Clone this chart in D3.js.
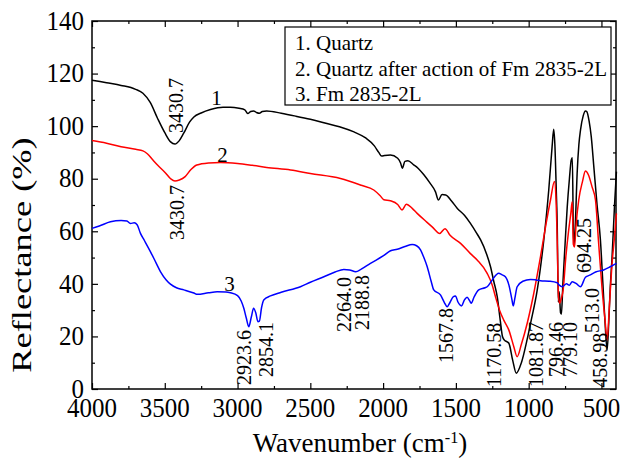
<!DOCTYPE html>
<html>
<head>
<meta charset="utf-8">
<script src="https://cdn.jsdelivr.net/npm/d3@7"></script>
<style>
  body { margin: 0; background: #fff; }
</style>
</head>
<body>
<div id="chart"></div>
<script>
// [wavenumber, reflectance]
const quartz = [
  [4000,117.5],[3900,116.5],[3800,115.5],[3700,114],[3650,112.5],[3600,109],[3550,103],[3500,97.5],
  [3460,94],[3430,93.2],[3400,94.5],[3370,97.3],[3330,101.5],[3300,103.5],[3250,105],[3186,106.3],
  [3100,107.2],[3050,107.2],[2990,106.8],[2950,106.2],[2930,104.8],[2910,105.6],[2890,105.8],[2870,105.2],
  [2850,104.9],[2830,105.6],[2800,105.8],[2700,104.9],[2600,103.8],[2500,102.6],[2400,101.2],[2300,99.8],
  [2200,97.8],[2120,95.5],[2060,92.5],[2030,90],[2010,88.6],[1990,88.8],[1950,89],[1900,87.8],
  [1880,86],[1868,84],[1850,86.6],[1830,86.8],[1790,85.3],[1760,84],[1720,81.5],[1680,78.5],
  [1640,75],[1620,71.9],[1595,74],[1570,73.8],[1530,71.5],[1490,68.7],[1440,66],[1400,63],
  [1360,59.5],[1330,56.7],[1290,51.5],[1262,46.5],[1240,41],[1216,35.1],[1195,26],[1180,20],
  [1165,18.5],[1150,18],[1136,17.4],[1110,11],[1085,6],[1050,10],[1010,19],[987,25],
  [941,37.7],[896,56.7],[862,75.7],[839,92.2],[828,98.8],[820,93],[810,75],[804,63],
  [796,33],[790,37],[781,29],[775,28.5],[765,40],[750,55],[735,69.3],[720,80],
  [708,87],[700,88],[693,60],[688,55],[680,62],[667,82],[655,93],[644,98.5],
  [625,104],[610,105.8],[600,105.5],[585,102],[570,96],[553,85],[530,70],[507,56.7],
  [490,40],[475,25],[461,14.8],[450,25],[440,38],[427,50.3],[410,70],[397,82.7]
];
const quartzTreated = [
  [4000,94.5],[3900,93.5],[3800,92.2],[3700,91.2],[3650,90.6],[3620,89.5],[3580,87],[3550,85.2],
  [3500,82.5],[3460,80],[3430,79.1],[3400,79.5],[3360,80.8],[3320,83.5],[3280,85.2],[3200,86],
  [3117,86.2],[3000,85.8],[2900,85.1],[2800,84.3],[2636,83.3],[2500,82],[2293,80.1],[2150,77.5],
  [2064,75.7],[2020,73.5],[1995,72],[1950,71.6],[1900,70.2],[1870,68.1],[1840,70.3],[1800,68.7],
  [1766,66.8],[1700,63.5],[1663,61.7],[1611,59.2],[1575,61],[1540,58.5],[1468,55.4],[1400,51.5],
  [1354,49.1],[1285,44],[1250,39.5],[1228,35.1],[1200,30],[1171,26.2],[1136,22.4],[1102,16.1],
  [1079,12.3],[1050,17],[1010,25],[970,35],[919,50.3],[880,63],[850,71.9],[823,78.9],
  [812,72],[804,56.7],[795,35],[786,32.6],[778,34],[763,37.7],[745,50],[725,60.5],
  [710,67],[701,71.2],[693,55],[685,54],[675,62],[656,71.9],[630,79],[610,82.9],
  [590,81.5],[565,77],[541,71.9],[520,56],[495,37.7],[475,26],[461,18.6],[445,32],
  [427,47.8],[410,58],[397,66.8]
];
const fm = [
  [4000,61.1],[3950,62],[3873,63.6],[3800,64.1],[3760,63.9],[3736,63],[3710,63.2],[3690,62.5],
  [3667,59.2],[3640,56.5],[3598,52.2],[3560,48],[3529,44.6],[3490,41.5],[3461,39.9],[3420,38.5],
  [3369,37.7],[3300,36.5],[3277,36],[3200,36.6],[3140,37],[3080,36.9],[3049,36.6],[3000,35.5],
  [2975,33.5],[2957,30.7],[2940,27],[2923,23.7],[2905,27.5],[2890,30.7],[2875,29],[2860,25.6],
  [2850,25.8],[2835,31],[2820,33.9],[2774,35.4],[2700,36.8],[2568,38.9],[2500,40.6],[2407,42.7],
  [2330,44.5],[2270,45.5],[2230,45.3],[2188,44.6],[2150,45.6],[2087,47.8],[2000,50.6],[1949,52.6],
  [1903,53.2],[1850,54.2],[1800,55],[1770,54.5],[1743,52.9],[1720,50],[1697,46.5],[1670,41],
  [1652,37.7],[1606,35.8],[1580,33],[1560,31.3],[1540,33],[1520,35],[1503,35.4],[1485,33],
  [1462,31.6],[1440,34],[1423,34.9],[1405,33.5],[1395,32.6],[1375,35],[1343,37.7],[1300,38.5],
  [1285,38.9],[1250,41.5],[1206,44],[1185,43.5],[1160,42.7],[1136,39.6],[1115,34],[1106,31.6],
  [1095,34.5],[1079,38.9],[1040,41],[987,41.7],[950,41.5],[919,41.2],[860,41],[804,40.4],
  [790,39.5],[770,38.9],[740,40],[720,39.5],[701,40.8],[670,40],[644,38.9],[610,42.5],
  [576,43.4],[540,44.5],[485,45.3],[440,46.5],[397,47.8]
];
const legendItems = ["1. Quartz", "2. Quartz after action of Fm 2835-2L", "3. Fm 2835-2L"];
const xTicks = [4000, 3500, 3000, 2500, 2000, 1500, 1000, 500];
const yTicks = [0, 20, 40, 60, 80, 100, 120, 140];
// [text, wavenumber, reflectance at text start]
const peakLabels = [
  ["3430.7", 3420, 97.4], ["3430.7", 3413, 56.7],
  ["2923.6", 2959, 1.5], ["2854.1", 2808, 4.6],
  ["2264.0", 2272, 21.7], ["2188.8", 2142, 22.4],
  ["1567.8", 1571, 9.9], ["1170.58", 1235, 0.8], ["1081.87", 953, 0.8],
  ["796.46", 809, 4.6], ["779.10", 713, 4.6],
  ["694.25", 617, 44.1], ["513.0", 568, 21.3], ["458.98", 507, 0.5]
];
const curveLabels = [["1", 3145, 110.7], ["2", 3103, 89], ["3", 3055, 40]];

const FONT = '"Liberation Serif", "Times New Roman", serif';
const W = 623, H = 464;
const m = { l: 92, r: 616, t: 21, b: 389 };

const svg = d3.select("#chart").append("svg")
  .attr("width", W).attr("height", H)
  .style("font-family", FONT);

const x = d3.scaleLinear().domain([4000, 400]).range([m.l, m.r]);
const y = d3.scaleLinear().domain([0, 140]).range([m.b, m.t]);

const xMinor = d3.range(3750, 399, -500);
const yMinor = d3.range(10, 140, 20);

// axes (ticks pointing inward, mirrored on top/right), labels drawn separately
function addAxis(gen, pos, values, size) {
  const g = svg.append("g").attr("transform", pos)
    .call(gen.tickValues(values).tickSize(-size).tickFormat(""));
  g.select(".domain").remove();
  g.selectAll("line").attr("stroke", "#000").attr("stroke-width", 1.2);
  return g;
}
addAxis(d3.axisBottom(x), `translate(0,${m.b})`, xTicks, 6);
addAxis(d3.axisBottom(x), `translate(0,${m.b})`, xMinor, 3);
addAxis(d3.axisTop(x), `translate(0,${m.t})`, xTicks, 6);
addAxis(d3.axisTop(x), `translate(0,${m.t})`, xMinor, 3);
addAxis(d3.axisLeft(y), `translate(${m.l},0)`, yTicks, 6);
addAxis(d3.axisLeft(y), `translate(${m.l},0)`, yMinor, 3);
addAxis(d3.axisRight(y), `translate(${m.r},0)`, yTicks, 6);
addAxis(d3.axisRight(y), `translate(${m.r},0)`, yMinor, 3);

// tick labels, slightly taller than wide like the original
const BASE = 20;
svg.selectAll("text.xtick")
  .data(xTicks)
  .enter()
  .append("text")
  .attr("class", "xtick")
  .attr("transform", d => `translate(${x(d)},${m.b + 28}) scale(1.25,1.32)`)
  .attr("text-anchor", "middle")
  .style("font-size", BASE + "px")
  .text(d => d);

svg.selectAll("text.ytick")
  .data(yTicks)
  .enter()
  .append("text")
  .attr("class", "ytick")
  .attr("transform", d => `translate(${m.l - 8},${y(d)}) scale(1.25,1.32)`)
  .attr("text-anchor", "end")
  .attr("dy", "0.33em")
  .style("font-size", BASE + "px")
  .text(d => d);

svg.append("rect")
  .attr("x", m.l).attr("y", m.t)
  .attr("width", m.r - m.l).attr("height", m.b - m.t)
  .attr("fill", "none").attr("stroke", "#000").attr("stroke-width", 1.5);

// spectra
const line = d3.line()
  .x(d => x(d[0])).y(d => y(d[1]))
  .curve(d3.curveMonotoneX);

const series = [
  { data: quartz, color: "#000000" },
  { data: quartzTreated, color: "#ff0000" },
  { data: fm, color: "#0000ff" }
];
svg.selectAll("path.spectrum")
  .data(series)
  .enter()
  .append("path")
  .attr("class", "spectrum")
  .attr("d", d => line(d.data))
  .attr("fill", "none")
  .attr("stroke", d => d.color)
  .attr("stroke-width", 1.5);

// peak labels, rotated
svg.selectAll("text.peak")
  .data(peakLabels)
  .enter()
  .append("text")
  .attr("class", "peak")
  .attr("transform", d => `translate(${x(d[1])},${y(d[2])}) rotate(-90)`)
  .attr("dy", "0.35em")
  .style("font-size", "20px")
  .text(d => d[0]);

svg.selectAll("text.curve-num")
  .data(curveLabels)
  .enter()
  .append("text")
  .attr("class", "curve-num")
  .attr("x", d => x(d[1]))
  .attr("y", d => y(d[2]))
  .attr("dy", "0.35em")
  .attr("text-anchor", "middle")
  .style("font-size", "21px")
  .text(d => d[0]);

// legend
const leg = svg.append("g");
leg.append("rect")
  .attr("x", 285).attr("y", 27).attr("width", 326).attr("height", 78)
  .attr("fill", "#fff").attr("stroke", "#000").attr("stroke-width", 1.2);
leg.selectAll("text")
  .data(legendItems)
  .enter()
  .append("text")
  .attr("x", 295)
  .attr("y", (d, i) => 50 + i * 25.5)
  .style("font-size", "21px")
  .text(d => d);

// axis titles
const xt = svg.append("text")
  .attr("transform", "translate(360,452) scale(1.35)")
  .attr("text-anchor", "middle")
  .style("font-size", BASE + "px");
xt.append("tspan").text("Wavenumber (cm");
xt.append("tspan").attr("dy", "-7").style("font-size", "12px").text("-1");
xt.append("tspan").attr("dy", "7").text(")");

svg.append("text")
  .attr("transform", "translate(22,255) rotate(-90) scale(1.3,1)")
  .attr("text-anchor", "middle")
  .attr("dy", "0.33em")
  .style("font-size", "28px")
  .text("Reflectance (%)");
</script>
</body>
</html>
